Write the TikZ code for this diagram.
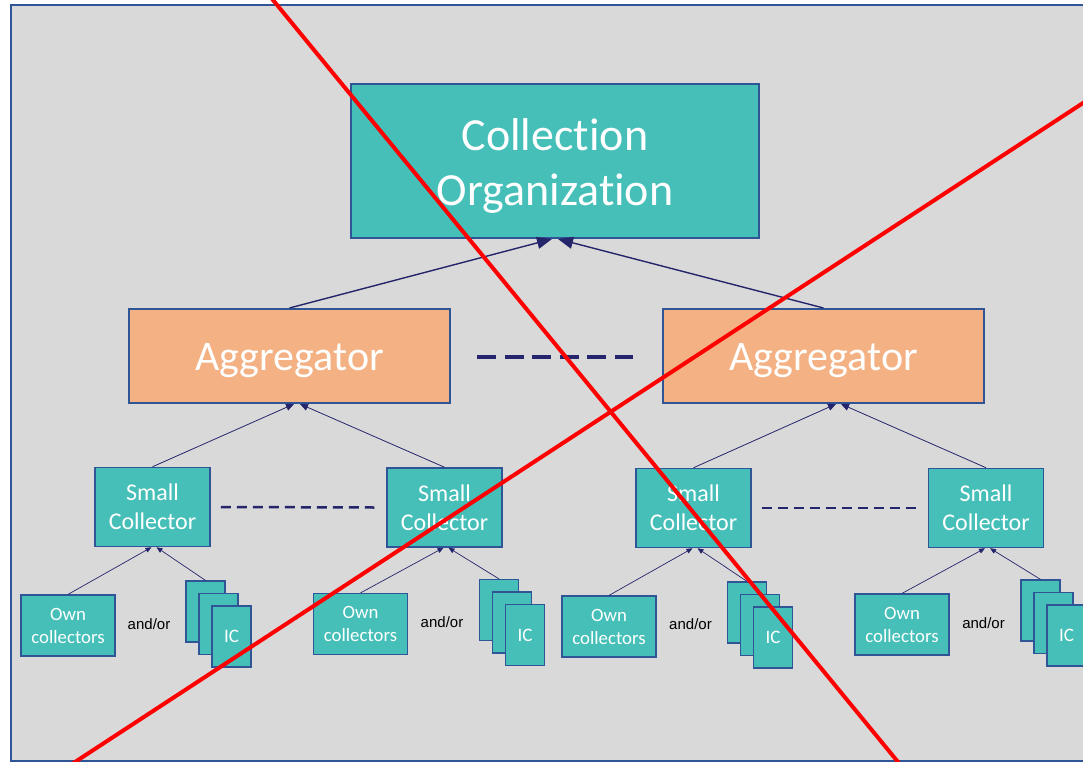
\documentclass[tikz,border=0pt]{standalone}
\usepackage{fontspec}
\setmainfont{Carlito}[Ligatures=CommonOff]
\newfontfamily\arialf{Liberation Sans}
\usetikzlibrary{arrows.meta,calc}
\definecolor{tealf}{HTML}{45BFB8}
\definecolor{orngf}{HTML}{F4B183}
\definecolor{bordc}{HTML}{2F5597}
\definecolor{navyc}{HTML}{25256B}
\definecolor{bgc}{HTML}{D9D9D9}
\begin{document}
\begin{tikzpicture}[x=1pt,y=-1pt,
  boxbase/.style={rectangle, draw=bordc, inner sep=0pt, text=white, align=center},
  cobox/.style={boxbase, fill=tealf, line width=2pt, minimum width=408pt, minimum height=154pt, font=\fontsize{46}{55}\selectfont, text height=96pt},
  aggbox/.style={boxbase, fill=orngf, line width=2pt, minimum width=321pt, minimum height=94pt, font=\fontsize{42}{50}\selectfont, text height=37pt},
  scbox/.style={boxbase, fill=tealf, line width=1.5pt, minimum width=115pt, minimum height=79pt, font=\fontsize{24}{29}\selectfont},
  ownbox/.style={boxbase, fill=tealf, line width=1.2pt, minimum width=94pt, minimum height=61pt, font=\fontsize{18.8}{23}\selectfont},
  icbox/.style={boxbase, fill=tealf, line width=1.2pt, minimum width=39pt, minimum height=61pt, font=\fontsize{19}{23}\selectfont},
  andor/.style={inner sep=0pt, font=\arialf\fontsize{15}{18}\selectfont, text=black},
  arrbig/.style={draw=navyc, line width=1.4pt, -{Triangle[length=15pt, width=12pt]}},
  arrmid/.style={draw=navyc, line width=0.8pt, -{Triangle[length=8pt, width=7pt]}},
  arrsmall/.style={draw=navyc, line width=0.7pt, -{Triangle[length=6pt, width=5pt]}},
  dashbig/.style={draw=navyc, line width=4pt, dash pattern=on 19pt off 8.5pt},
  dashsmall/.style={draw=navyc, line width=2.5pt, dash pattern=on 10pt off 6pt},
  redline/.style={draw=red, line width=4pt}
]
\clip (0,0) rectangle (1083,762);
\fill[white] (0,0) rectangle (1083,762);
\draw[fill=bgc, draw=bordc, line width=2pt] (10.5,5) rectangle (1095,761);

% top
\node[cobox] (co) at (555,161) {Collection\\Organization};
\node[aggbox] (agg1) at (289.5,356) {Aggregator};
\node[aggbox] (agg2) at (823.5,356) {Aggregator};

% small collectors
\node[scbox] (sc1) at (152.5,507) {Small\\Collector};
\node[scbox] (sc2) at (444.5,507.5) {Small\\Collector};
\node[scbox] (sc3) at (693.5,508) {Small\\Collector};
\node[scbox] (sc4) at (986,508) {Small\\Collector};

% own collectors
\node[ownbox] (own1) at (68,625.5) {Own\\collectors};
\node[ownbox] (own2) at (360.5,624) {Own\\collectors};
\node[ownbox] (own3) at (609,626.5) {Own\\collectors};
\node[ownbox] (own4) at (902,624.5) {Own\\collectors};

% and/or
\node[andor] (ao1) at (149,624) {and/or};
\node[andor] (ao2) at (442,622) {and/or};
\node[andor] (ao3) at (690.5,624.5) {and/or};
\node[andor] (ao4) at (983.5,623) {and/or};

% IC stacks
\node[icbox] (ic1a) at (205.5,611.5) {};
\node[icbox] (ic1b) at (218.5,624) {};
\node[icbox] (ic1c) at (231.5,636.5) {IC};
\node[icbox] (ic2a) at (499,610) {};
\node[icbox] (ic2b) at (512,622.5) {};
\node[icbox] (ic2c) at (525,635) {IC};
\node[icbox] (ic3a) at (747,612.5) {};
\node[icbox] (ic3b) at (760,625) {};
\node[icbox] (ic3c) at (773,637.5) {IC};
\node[icbox] (ic4a) at (1040.5,610.5) {};
\node[icbox] (ic4b) at (1053.5,623) {};
\node[icbox] (ic4c) at (1066.5,635.5) {IC};

% arrows to collection organization
\draw[arrbig] (agg1.north) -- ([xshift=-3pt]co.south);
\draw[arrbig] (agg2.north) -- ([xshift=3pt]co.south);

% arrows to aggregators
\draw[arrmid] (sc1.north) -- ([xshift=4.5pt]agg1.south);
\draw[arrmid] (sc2.north) -- ([xshift=10.5pt]agg1.south);
\draw[arrmid] (sc3.north) -- ([xshift=12.5pt]agg2.south);
\draw[arrmid] (sc4.north) -- ([xshift=17.5pt]agg2.south);

% arrows to small collectors
\draw[arrsmall] (own1.north) -- ([xshift=-1pt]sc1.south);
\draw[arrsmall] (ic1a.north) -- ([xshift=4pt]sc1.south);
\draw[arrsmall] (own2.north) -- ([xshift=-1pt]sc2.south);
\draw[arrsmall] (ic2a.north) -- ([xshift=4pt]sc2.south);
\draw[arrsmall] (own3.north) -- ([xshift=-1pt]sc3.south);
\draw[arrsmall] (ic3a.north) -- ([xshift=4pt]sc3.south);
\draw[arrsmall] (own4.north) -- ([xshift=-1pt]sc4.south);
\draw[arrsmall] (ic4a.north) -- ([xshift=4pt]sc4.south);

% dashed links
\draw[dashbig] ([xshift=26pt,yshift=-1pt]agg1.east) -- ([xshift=-29pt,yshift=-1pt]agg2.west);
\draw[dashsmall] ([xshift=10pt]sc1.east) -- ([xshift=-12pt]sc2.west);
\draw[dashsmall] ([xshift=10pt]sc3.east) -- ([xshift=-12pt]sc4.west);

% red cross
\coordinate (r1a) at (273,0);
\coordinate (r1b) at (898,762);
\coordinate (r2a) at (75,762);
\coordinate (r2b) at (1083,103);
\draw[redline] ($(r1a)!-0.05!(r1b)$) -- ($(r1b)!-0.05!(r1a)$);
\draw[redline] ($(r2a)!-0.05!(r2b)$) -- ($(r2b)!-0.05!(r2a)$);
\end{tikzpicture}
\end{document}
